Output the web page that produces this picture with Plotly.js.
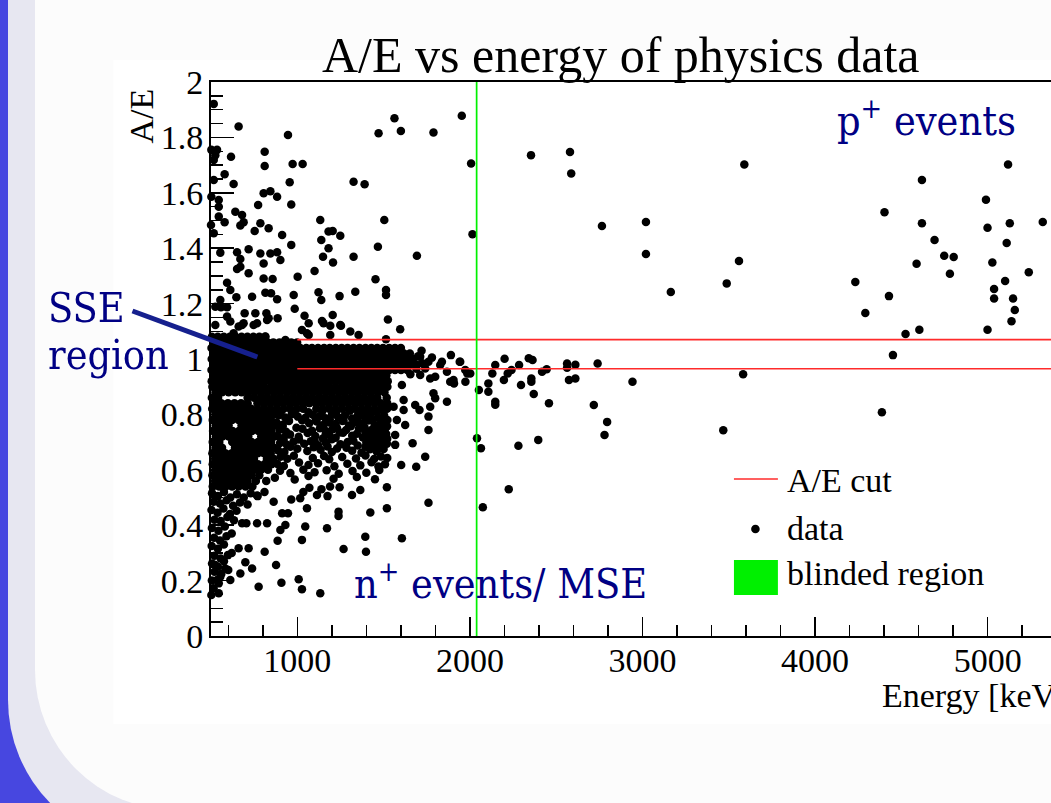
<!DOCTYPE html>
<html>
<head>
<meta charset="utf-8">
<script src="https://cdn.plot.ly/plotly-3.0.1.min.js"></script>
<style>
  html, body { margin:0; padding:0; width:1051px; height:803px; overflow:hidden; background:#4747e0; }
  #rail  { position:absolute; left:8px;  top:-200px; width:1300px; height:1047px; background:#e7e7f1; border-bottom-left-radius:147px; }
  #sheet { position:absolute; left:35px; top:-200px; width:1300px; height:1010px; background:#fcfcfc; border-bottom-left-radius:140px; }
  #chart { position:absolute; left:0; top:0; width:1100px; height:803px; }
</style>
</head>
<body>
<div id="rail"></div><div id="sheet"></div><div id="chart"></div>
<script>
// ---------------- values ----------------
// A/E cut window (applied above 1 MeV) and the blinded window around Q_bb
const cutEnergy = [1000, 5500];
const cutLow = 0.965;
const cutHigh = 1.07;
const blindWindow = [2034, 2044];

// saturated single-site band and the multi-site block below it, one A/E row at a time
const denseAoE = [1.08, 1.06, 1.04, 1.02, 1.00, 0.98, 0.96, 0.94, 0.92, 0.90, 0.88, 0.86, 0.84, 0.82,
  0.80, 0.78, 0.76, 0.74, 0.72, 0.70, 0.68, 0.66, 0.64, 0.62, 0.60, 0.58, 0.56, 0.54];
const denseEnergy = [
  [505, 539, 574, 609, 642, 677, 711, 746, 780, 814],
  [520, 553, 588, 621, 657, 690, 725, 760, 793, 828, 861, 897, 930, 965, 999],
  [503, 537, 572, 605, 640, 675, 708, 743, 777, 811, 846, 880, 914, 949, 983, 1017, 1052, 1085, 1120, 1155, 1188, 1223, 1257, 1291, 1326, 1360, 1395, 1429, 1463, 1497, 1532, 1566, 1600],
  [519, 554, 588, 623, 656, 691, 726, 759, 794, 829, 862, 897, 931, 966, 1000, 1034, 1069, 1103, 1138, 1171, 1206, 1240, 1275, 1309, 1343, 1378, 1412, 1446, 1481, 1515, 1549, 1584, 1618, 1652],
  [504, 536, 571, 606, 639, 674, 709, 742, 777, 812, 845, 880, 914, 948, 983, 1018, 1051, 1086, 1120, 1154, 1189, 1224, 1257, 1292, 1326, 1361, 1394, 1429, 1464, 1498, 1532, 1567, 1601, 1635, 1670],
  [520, 553, 589, 622, 657, 692, 725, 760, 795, 828, 863, 897, 931, 966, 1001, 1034, 1068, 1104, 1137, 1172, 1206, 1241, 1274, 1309, 1344, 1377, 1412, 1447, 1480, 1515, 1550, 1583, 1618, 1653, 1690],
  [503, 538, 571, 605, 640, 674, 708, 743, 778, 811, 846, 881, 914, 949, 982, 1017, 1052, 1085, 1120, 1155, 1189, 1223, 1258, 1292, 1326, 1360, 1395, 1430, 1463, 1498, 1533, 1566, 1601, 1637],
  [519, 555, 588, 622, 657, 691, 726, 760, 794, 829, 863, 897, 932, 965, 1000, 1035, 1069, 1103, 1138, 1172, 1206, 1240, 1275, 1310, 1343, 1378, 1412, 1446, 1481, 1516],
  [504, 537, 572, 606, 640, 674, 709, 743, 777, 811, 846, 880, 915, 948, 984, 1018, 1051, 1086, 1121, 1154, 1189, 1223, 1257, 1292, 1326, 1360, 1395, 1429, 1463, 1499, 1524],
  [508, 545, 583, 620, 658, 697, 733, 771, 808, 846, 884, 921, 959, 996, 1034, 1072, 1109, 1147, 1185, 1222, 1260, 1297, 1335, 1373, 1410, 1448, 1486, 1522],
  [526, 564, 602, 640, 677, 715, 752, 790, 827, 865, 902, 940, 978, 1015, 1053, 1090, 1128, 1166, 1203, 1241, 1278, 1316, 1354, 1391, 1429, 1467, 1505],
  [505, 541, 712, 750, 787, 825, 862, 900, 937, 975, 1012, 1050, 1087, 1125, 1162, 1200, 1238, 1275, 1313, 1350, 1388, 1426, 1463, 1518],
  [522, 560, 598, 636, 674, 712, 769, 806, 844, 881, 919, 957, 994, 1032, 1069, 1107, 1145, 1183, 1221, 1258, 1296, 1334, 1371, 1409, 1447, 1484, 1521],
  [507, 545, 582, 620, 657, 695, 733, 770, 808, 845, 883, 921, 959, 997, 1034, 1110, 1147, 1185, 1222, 1260, 1298, 1335, 1373, 1410, 1448, 1486, 1520],
  [525, 562, 600, 637, 675, 713, 750, 788, 825, 863],
  [510, 547, 585, 622, 660, 697, 735, 772, 810, 847],
  [527, 565, 602, 677, 715, 752, 790, 827, 865],
  [512, 550, 587, 625, 662, 700, 737, 775, 812, 850],
  [528, 566, 603, 641, 678, 716, 791, 828, 866],
  [510, 548, 623, 660, 698, 735, 773, 810, 848],
  [526, 564, 639, 676, 714, 751, 789, 826, 864],
  [508, 546, 583, 621, 658, 696, 733, 771, 808, 846],
  [524, 562, 599, 637, 674, 712, 749, 824, 862],
  [510, 547, 585, 622, 660, 697, 735, 772, 810, 850],
  [526, 563, 601, 638, 676, 713, 751, 790, 830],
  [508, 546, 583, 621, 658, 696, 735, 780],
  [524, 562, 599, 637, 674, 712, 760, 820],
  [510, 547, 585, 622, 660, 700, 740]
];

// individual events outside the saturated core: [energy keV, A/E]
const sparseEvents = [
  // high A/E (p+ surface / noise-like)
  [516,1.921],[660,1.839],[946,1.809],[1471,1.815],[1563,1.869],[1600,1.823],[1789,1.818],[1953,1.878],[2007,1.706],[2015,1.450],
  [502,1.755],[535,1.755],[525,1.736],[516,1.718],[616,1.730],[579,1.667],[516,1.646],[631,1.632],[502,1.586],[545,1.574],
  [545,1.550],[500,1.484],[545,1.514],[579,1.494],[641,1.532],[680,1.520],[689,1.494],[670,1.482],[516,1.454],[554,1.384],
  [651,1.385],[670,1.361],[651,1.325],[670,1.333],[718,1.310],[593,1.275],[612,1.249],[647,1.223],[525,1.189],[554,1.213],
  [558,1.187],[593,1.187],[525,1.123],[612,1.135],[631,1.093],[695,1.165],[689,1.129],[747,1.123],[718,1.396],[773,1.556],
  [786,1.490],[805,1.345],[753,1.462],[786,1.381],[738,1.225],[805,1.291],[815,1.239],[821,1.165],[825,1.141],[805,1.598],
  [811,1.748],[811,1.697],[844,1.606],[883,1.586],[834,1.472],[844,1.381],[883,1.385],[902,1.357],[857,1.289],[848,1.237],
  [883,1.216],[834,1.147],[886,1.147],[815,1.081],[912,1.448],[965,1.412],[965,1.558],[956,1.638],[973,1.704],[1031,1.704],
  [979,1.231],[1002,1.297],[985,1.181],[1042,1.156],[1066,1.087],[1100,1.318],[1133,1.502],[1139,1.430],[1149,1.369],[1181,1.460],
  [1205,1.462],[1181,1.400],[1207,1.348],[1139,1.213],[1123,1.241],[1143,1.137],[1191,1.120],[1205,1.159],[1245,1.227],[1249,1.445],
  [1253,1.120],[1326,1.369],[1336,1.243],[1326,1.640],[1390,1.631],[1453,1.288],[1467,1.405],[1504,1.502],[1514,1.249],[1514,1.231],
  [1525,1.143],[1514,1.071],[1596,1.107],[1693,1.373],[593,1.153],[660,1.117],[757,1.165],[767,1.129],
  // just above the band
  [1152,1.129],[1249,1.123],[1307,1.099],[1355,1.087],[1056,1.093],[1191,1.087],[680,1.123],[931,1.069],[1027,1.105],[1066,1.129],
  // multi-site cloud between 0.9 and 1.5 MeV
  [893,0.797],[930,0.789],[968,0.801],[1003,0.792],[1047,0.788],[1090,0.799],[1128,0.793],[1163,0.786],[1201,0.800],[1237,0.790],
  [1276,0.797],[1318,0.785],[1352,0.799],[1390,0.791],[1427,0.802],[1466,0.788],[1503,0.796],[1522,0.780],
  [905,0.810],[985,0.812],[1065,0.808],[1145,0.811],[1225,0.809],[1305,0.813],[1385,0.807],[1465,0.811],
  [948,0.781],[1028,0.779],[1108,0.783],[1188,0.782],[1268,0.778],[1348,0.784],[1428,0.780],[1508,0.779],
  [880,0.771],[915,0.763],[952,0.776],[1069,0.768],[1112,0.774],[1150,0.762],[1186,0.771],[1222,0.765],[1262,0.776],[1300,0.760],
  [1337,0.772],[1373,0.766],[1411,0.778],[1448,0.762],[1486,0.770],[1520,0.757],
  [915,0.755],[995,0.752],[1150,0.756],[1230,0.751],[1310,0.757],[1390,0.753],[1470,0.755],
  [897,0.745],[935,0.737],[1030,0.748],[1085,0.741],[1131,0.750],[1168,0.739],[1204,0.746],[1245,0.735],[1283,0.744],[1357,0.748],
  [1395,0.736],[1432,0.745],[1470,0.738],[1508,0.748],
  [940,0.731],[1060,0.733],[1165,0.729],[1265,0.734],[1345,0.730],[1440,0.732],[1515,0.729],
  [884,0.722],[921,0.716],[958,0.727],[1008,0.719],[1104,0.722],[1148,0.713],[1185,0.726],[1222,0.716],[1318,0.723],[1380,0.717],
  [1418,0.728],[1455,0.714],[1493,0.724],[1521,0.712],
  [920,0.707],[1010,0.709],[1100,0.706],[1200,0.710],[1325,0.705],[1420,0.708],[1500,0.706],
  [900,0.697],[940,0.690],[978,0.701],[1040,0.694],[1078,0.703],[1120,0.689],[1165,0.698],[1250,0.692],[1292,0.700],[1350,0.688],
  [1400,0.699],[1440,0.690],[1478,0.702],[1519,0.694],
  [960,0.683],[1095,0.681],[1175,0.684],[1285,0.680],[1395,0.683],[1480,0.681],
  [888,0.671],[925,0.664],[1000,0.676],[1058,0.668],[1135,0.672],[1200,0.664],[1230,0.677],[1318,0.669],[1372,0.662],[1421,0.674],
  [1460,0.666],[1500,0.675],
  [903,0.647],[942,0.640],[980,0.651],[1090,0.643],[1155,0.650],[1185,0.638],[1260,0.646],[1340,0.641],[1395,0.652],[1445,0.639],
  [1485,0.648],[1521,0.643],
  [885,0.621],[922,0.614],[1010,0.626],[1065,0.617],[1120,0.624],[1215,0.613],[1290,0.622],[1365,0.616],[1430,0.627],[1470,0.612],
  [1508,0.620],
  [900,0.597],[960,0.588],[1035,0.600],[1100,0.591],[1170,0.598],[1240,0.586],[1320,0.596],[1400,0.589],[1475,0.599],
  [870,0.571],[985,0.565],[1065,0.578],[1210,0.568],[1345,0.574],[1450,0.566],
  // tail of the band and the cloud beyond 1.5 MeV
  [1602,0.617],[1689,0.611],[1668,0.696],[1741,0.647],[1760,0.744],[1760,0.792],[1708,0.816],[1683,0.834],[1616,0.816],[1616,0.852],
  [1558,0.828],[1577,0.780],[1625,0.762],[1567,0.726],[1567,0.690],[1799,0.858],[1867,0.846],[1770,0.930],[1712,0.942],[1606,0.906],
  [1828,0.978],[1890,1.014],[1905,0.924],[1944,0.990],[1973,0.960],[2002,0.948],[1867,0.954],[1789,0.876],[1760,0.990],[1712,1.008],
  [1664,0.984],[1741,0.966],[1799,0.936],[1838,0.990],[1770,0.828],[1700,1.010],[1725,0.985],[1690,0.965],[1720,1.030],[1655,0.945],
  [1780,1.005],[1974,0.918],[1985,0.948],[1886,0.918],
  // low A/E, below the multi-site cloud
  [1519,0.461],[1760,0.481],[1606,0.353],[1423,0.446],[1394,0.358],[1398,0.304],[1268,0.314],[1239,0.449],[1239,0.433],[1172,0.389],
  [1133,0.154],[1027,0.169],[1008,0.205],[908,0.192],[877,0.256],[886,0.344],[811,0.304],[776,0.178],[738,0.244],[699,0.266],
  [670,0.226],[718,0.317],[705,0.407],[767,0.407],[825,0.407],[902,0.383],[912,0.443],[946,0.443],[863,0.485],[1017,0.497],
  [1056,0.461],[1114,0.509],[1027,0.347],[767,0.507],[1046,0.395],[965,0.493],[931,0.401],[660,0.317],[680,0.407],[612,0.202],
  [554,0.214],[535,0.202],[583,0.244],[525,0.256],[502,0.148],[545,0.154],[1035,0.520],[1070,0.535],[1140,0.530],[1175,0.505],
  [1190,0.540],[1245,0.537],[1317,0.509],[1365,0.527],[1519,0.537],
  [506,0.515],[540,0.505],[575,0.520],[612,0.500],[650,0.512],[690,0.500],[730,0.515],[770,0.505],[810,0.520],
  [515,0.485],[552,0.478],[590,0.490],[628,0.470],[668,0.482],[712,0.475],
  [503,0.455],[538,0.445],[572,0.460],[610,0.440],[648,0.452],
  [520,0.420],[556,0.415],[595,0.430],[633,0.418],
  [505,0.390],[543,0.380],[580,0.395],[620,0.370],
  [518,0.355],[552,0.345],[590,0.360],
  [504,0.325],[540,0.315],[575,0.330],[620,0.300],
  [520,0.290],[556,0.280],[598,0.292],
  [506,0.262],[540,0.250],[575,0.270],
  [520,0.232],[560,0.225],[600,0.238],
  [505,0.200],[545,0.190],[515,0.172],
  // above 2 MeV
  [1941,0.990],[1908,0.912],[2041,0.714],[2064,0.678],[2075,0.465],[2052,0.888],[2107,0.912],[2107,0.882],[2130,0.948],[2147,0.978],
  [2147,0.846],[2147,0.835],[2197,0.924],[2201,1.001],[2219,0.948],[2241,0.960],[2285,0.978],[2281,0.687],[2225,0.530],[2296,0.906],
  [2341,1.003],[2363,0.996],[2356,0.930],[2356,0.918],[2370,0.874],[2396,0.708],[2418,0.954],[2445,0.963],[2458,0.840],[2563,0.984],
  [2563,0.968],[2574,0.924],[2611,0.979],[2611,0.930],[2718,0.834],[2740,0.984],[2780,0.726],[2795,0.773],[2942,0.918],[3468,0.743],
  [3583,0.945],[4387,0.808],[4451,1.014],
  [2354,1.736],[2580,1.747],[2587,1.670],[2765,1.480],[3020,1.495],[3020,1.379],[3164,1.242],[3488,1.273],[3559,1.354],[3590,1.702],
  [4233,1.278],[4291,1.166],[4402,1.530],[4428,1.227],[4524,1.090],[4604,1.106],[4588,1.344],[4619,1.646],[4619,1.490],[4692,1.430],
  [4748,1.373],[4803,1.368],[4781,1.308],[4990,1.575],[4999,1.474],[4999,1.106],[5027,1.348],[5037,1.253],[5037,1.218],[5101,1.282],
  [5110,1.419],[5118,1.702],[5128,1.490],[5147,1.218],[5157,1.177],[5138,1.136],[5238,1.313],[5319,1.495]
];

// ---------------- assemble ----------------
const evEnergy = [], evAoE = [];
denseAoE.forEach((a, i) => denseEnergy[i].forEach(e => { evEnergy.push(e); evAoE.push(a); }));
sparseEvents.forEach(([e, a]) => { evEnergy.push(e); evAoE.push(a); });

// page geometry: the frame runs from 500 to 5500 keV
const W = 1100, H = 803;
const M = { l: 210.6, r: 25.65, t: 82, b: 167 };
const PW = W - M.l - M.r, PH = H - M.t - M.b;
const fx = p => (p - M.l) / PW;          // page pixel -> paper x
const fy = p => (H - M.b - p) / PH;      // page pixel -> paper y

const serif = 'Liberation Serif, Times New Roman, serif';
const slideSerif = 'DejaVu Serif Condensed, DejaVu Serif, serif';
const navy = '#000084';
const cutRed = '#ff2b2b';
const blindGreen = '#00f000';

const traces = [
  { type: 'scatter', mode: 'markers', name: 'data', x: evEnergy, y: evAoE,
    marker: { color: '#000', size: 8.5, line: { width: 0 } },
    cliponaxis: false, hoverinfo: 'skip', showlegend: false },
  { type: 'scatter', mode: 'lines', name: 'A/E cut',
    x: [cutEnergy[0], cutEnergy[1], null, cutEnergy[0], cutEnergy[1]],
    y: [cutHigh, cutHigh, null, cutLow, cutLow],
    line: { color: cutRed, width: 1.6 }, hoverinfo: 'skip', showlegend: false }
];

const axisFont = { family: serif, size: 34, color: '#000' };
const blueFont = { family: slideSerif, size: 41, color: navy };

const layout = {
  width: W, height: H,
  margin: M,
  paper_bgcolor: 'rgba(0,0,0,0)',
  plot_bgcolor: 'rgba(0,0,0,0)',
  showlegend: false,
  xaxis: {
    range: [500, 5500], showgrid: false, zeroline: false,
    showline: true, linecolor: '#000', linewidth: 2, mirror: true,
    ticks: 'inside', ticklen: 19, tickwidth: 1.5, tickcolor: '#000',
    tick0: 0, dtick: 1000, tickfont: axisFont, ticklabelstandoff: -7,
    minor: { ticks: 'inside', tick0: 0, dtick: 200, ticklen: 11, tickwidth: 1.5, tickcolor: '#000', showgrid: false }
  },
  yaxis: {
    range: [0, 2], showgrid: false, zeroline: false,
    showline: true, linecolor: '#000', linewidth: 2, mirror: true,
    ticks: 'inside', ticklen: 23, tickwidth: 1.5, tickcolor: '#000',
    tick0: 0, dtick: 0.2, tickfont: axisFont, ticklabelstandoff: -1,
    minor: { ticks: 'inside', tick0: 0, dtick: 0.05, ticklen: 12, tickwidth: 1.5, tickcolor: '#000', showgrid: false }
  },
  shapes: [
    // white canvas of the figure
    { type: 'rect', xref: 'paper', yref: 'paper', layer: 'below',
      x0: fx(113), x1: fx(1100), y0: fy(724), y1: fy(60), fillcolor: '#ffffff', line: { width: 0 } },
    // blinded window at Q_bb
    { type: 'rect', xref: 'x', yref: 'paper', x0: blindWindow[0], x1: blindWindow[1], y0: 0, y1: 1,
      fillcolor: blindGreen, line: { width: 0 } },
    // pointer from the SSE label into the band
    { type: 'line', xref: 'paper', yref: 'paper', x0: fx(132), y0: fy(311), x1: fx(257), y1: fy(357),
      line: { color: '#16208e', width: 5 } },
    // legend symbols
    { type: 'line', xref: 'paper', yref: 'paper', x0: fx(734), x1: fx(778), y0: fy(479), y1: fy(479),
      line: { color: cutRed, width: 1.6 } },
    { type: 'circle', xref: 'paper', yref: 'paper', x0: fx(751.2), x1: fx(759.8), y0: fy(533.3), y1: fy(524.7),
      fillcolor: '#000', line: { width: 0 } },
    { type: 'rect', xref: 'paper', yref: 'paper', x0: fx(734), x1: fx(778), y0: fy(595), y1: fy(560),
      fillcolor: blindGreen, line: { width: 0 } }
  ],
  annotations: [
    { text: 'A/E vs energy of physics data', xref: 'paper', yref: 'paper', x: fx(620.5), y: fy(55),
      xanchor: 'center', yanchor: 'middle', showarrow: false, font: { family: serif, size: 50, color: '#000' } },
    { text: 'A/E', xref: 'paper', yref: 'paper', x: fx(141.5), y: fy(86), textangle: -90,
      xanchor: 'center', yanchor: 'top', showarrow: false, font: axisFont },
    { text: 'Energy [keV]', xref: 'paper', yref: 'paper', x: fx(880), y: fy(695),
      xanchor: 'left', yanchor: 'middle', showarrow: false, font: axisFont },
    { text: 'A/E cut', xref: 'paper', yref: 'paper', x: fx(785), y: fy(480),
      xanchor: 'left', yanchor: 'middle', showarrow: false, font: axisFont },
    { text: 'data', xref: 'paper', yref: 'paper', x: fx(785), y: fy(528.5),
      xanchor: 'left', yanchor: 'middle', showarrow: false, font: axisFont },
    { text: 'blinded region', xref: 'paper', yref: 'paper', x: fx(785), y: fy(573.5),
      xanchor: 'left', yanchor: 'middle', showarrow: false, font: axisFont },
    { text: 'p<sup>+</sup> events', xref: 'paper', yref: 'paper', x: fx(835), y: fy(118),
      xanchor: 'left', yanchor: 'middle', showarrow: false, font: blueFont },
    { text: 'SSE', xref: 'paper', yref: 'paper', x: fx(45), y: fy(308),
      xanchor: 'left', yanchor: 'middle', showarrow: false, font: blueFont },
    { text: 'region', xref: 'paper', yref: 'paper', x: fx(45), y: fy(355),
      xanchor: 'left', yanchor: 'middle', showarrow: false, font: blueFont },
    { text: 'n<sup>+</sup> events/ MSE', xref: 'paper', yref: 'paper', x: fx(352), y: fy(581),
      xanchor: 'left', yanchor: 'middle', showarrow: false, font: blueFont }
  ]
};

Plotly.newPlot('chart', traces, layout, { staticPlot: true, displayModeBar: false });
</script>
</body>
</html>
